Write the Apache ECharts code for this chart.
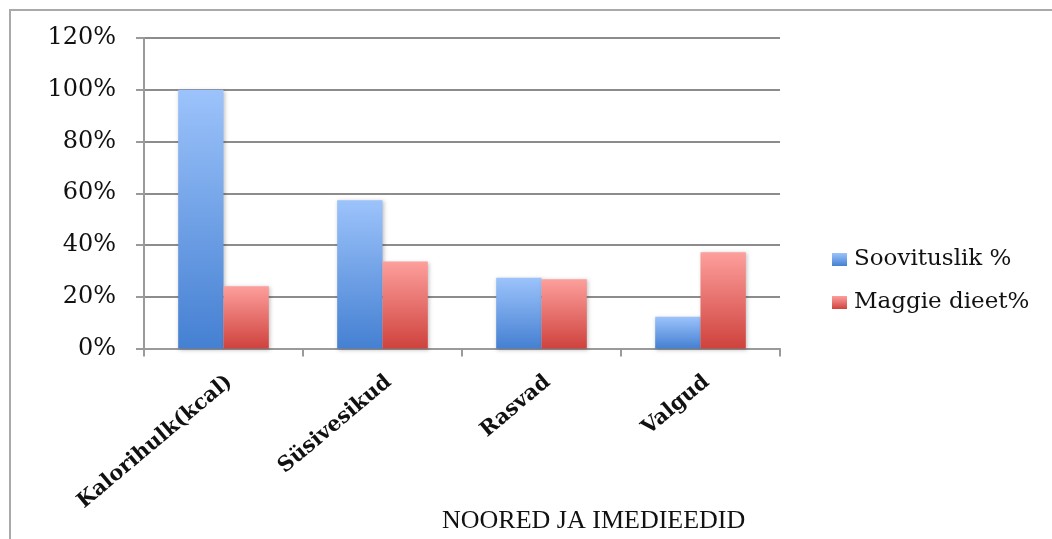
<!DOCTYPE html>
<html>
<head>
<meta charset="utf-8">
<script src="https://cdn.jsdelivr.net/npm/echarts@6/dist/echarts.min.js"></script>
<style>
  html, body { margin: 0; padding: 0; background: #ffffff; }
  #chart { width: 1052px; height: 539px; }
</style>
</head>
<body>
<div id="chart"></div>
<script>
// Nutrient categories on the x axis
const categories = ['Kalorihulk(kcal)', 'Süsivesikud', 'Rasvad', 'Valgud'];
// Recommended share, percent
const soovituslik = [100, 57.3, 27.3, 12.3];
// Maggie diet share, percent
const maggieDieet = [24.1, 33.6, 26.8, 37.2];
const seriesNames = ['Soovituslik %', 'Maggie dieet%'];
const axisTitle = 'NOORED JA IMEDIEEDID';

const serif = '"DejaVu Serif", serif';

function vGrad(top, bottom) {
  return new echarts.graphic.LinearGradient(0, 0, 0, 1, [
    { offset: 0, color: top },
    { offset: 1, color: bottom }
  ]);
}
const blueFill = vGrad('#9cc3fb', '#4580d2');
const redFill = vGrad('#fd9f9c', '#cf423d');

const chart = echarts.init(document.getElementById('chart'), null, { renderer: 'canvas' });

chart.setOption({
  backgroundColor: '#ffffff',
  animation: false,
  graphic: [{
    type: 'polyline',
    shape: { points: [[10, 545], [10, 10], [1060, 10]] },
    style: { stroke: '#a9a9a9', lineWidth: 2, fill: null }
  }],
  title: {
    text: axisTitle,
    left: 437,
    top: 503,
    textStyle: {
      fontFamily: '"Liberation Serif", serif',
      fontSize: 26,
      fontWeight: 'normal',
      color: '#111'
    }
  },
  legend: {
    orient: 'vertical',
    left: 827,
    top: 243,
    icon: 'rect',
    itemWidth: 15,
    itemHeight: 13,
    itemGap: 20,
    data: seriesNames,
    textStyle: { fontFamily: serif, fontSize: 23, color: '#111', padding: [0, 0, 0, 2] }
  },
  grid: { left: 144, right: 272, top: 38, bottom: 190.5, containLabel: false },
  xAxis: {
    type: 'category',
    data: categories,
    axisLine: { lineStyle: { color: '#9a9a9a', width: 2 } },
    axisTick: { show: true, length: 8, lineStyle: { color: '#9a9a9a', width: 2 } },
    axisLabel: {
      rotate: 40,
      margin: 36,
      fontFamily: serif,
      fontWeight: 'bold',
      fontSize: 21,
      color: '#111',
      padding: [0, -8, 0, 0]
    }
  },
  yAxis: {
    type: 'value',
    min: 0,
    max: 120,
    interval: 20,
    axisLine: { show: true, lineStyle: { color: '#9a9a9a', width: 2 } },
    axisTick: { show: true, length: 8, lineStyle: { color: '#9a9a9a', width: 2 } },
    splitLine: { lineStyle: { color: '#8c8c8c', width: 2 } },
    axisLabel: {
      formatter: '{value}%',
      margin: 28,
      fontFamily: serif,
      fontSize: 24,
      color: '#111'
    }
  },
  series: [
    {
      name: seriesNames[0],
      type: 'bar',
      data: soovituslik,
      barGap: '0%',
      barCategoryGap: '43%',
      itemStyle: { color: blueFill, shadowColor: 'rgba(0,0,0,0.25)', shadowBlur: 4, shadowOffsetX: 1, shadowOffsetY: 1 }
    },
    {
      name: seriesNames[1],
      type: 'bar',
      data: maggieDieet,
      barGap: '0%',
      barCategoryGap: '43%',
      itemStyle: { color: redFill, shadowColor: 'rgba(0,0,0,0.25)', shadowBlur: 4, shadowOffsetX: 1, shadowOffsetY: 1 }
    }
  ]
});
</script>
</body>
</html>
